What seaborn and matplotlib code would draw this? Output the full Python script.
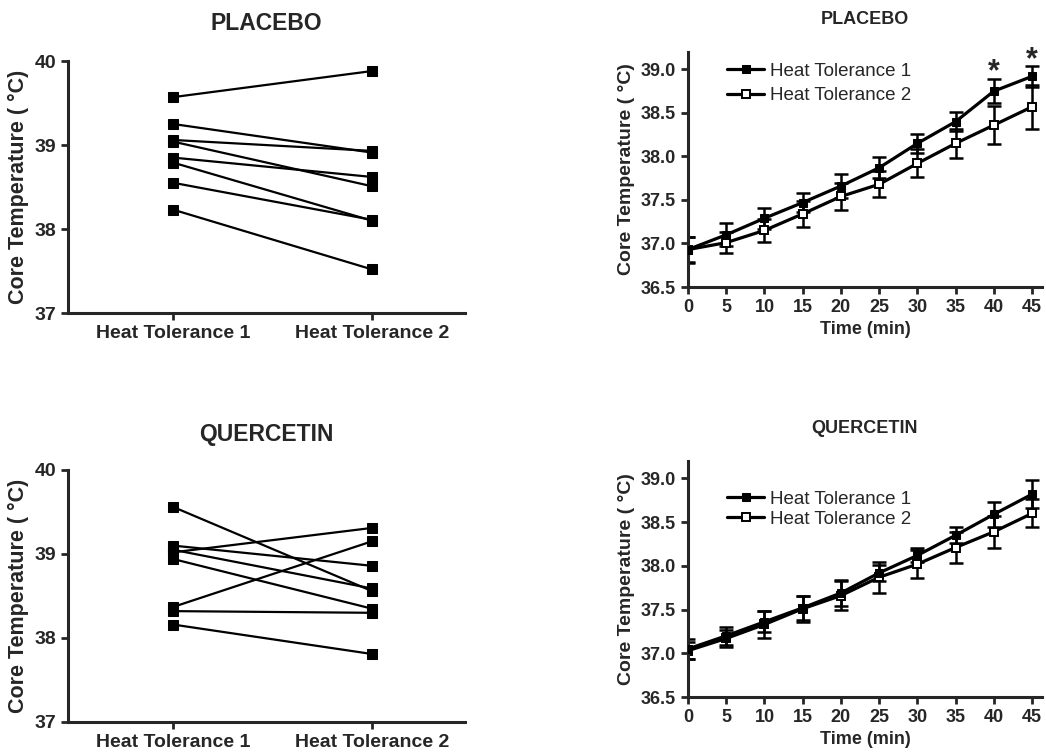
import numpy as np
import pandas as pd
import seaborn as sns
import matplotlib.pyplot as plt

# paired individual values (8 subjects)
placebo_ht1 = [39.57, 39.25, 39.06, 39.04, 38.85, 38.79, 38.55, 38.23]
placebo_ht2 = [39.88, 38.91, 38.93, 38.51, 38.62, 38.10, 38.11, 37.52]
quercetin_ht1 = [39.56, 39.10, 39.05, 39.02, 38.94, 38.37, 38.32, 38.16]
quercetin_ht2 = [38.56, 38.86, 38.59, 39.31, 38.35, 39.15, 38.30, 37.81]
trial_labels = ["Heat Tolerance 1", "Heat Tolerance 2"]

# time course, mean and SEM
time_min = [0, 5, 10, 15, 20, 25, 30, 35, 40, 45]
plc_ht1_mean = [36.93, 37.10, 37.29, 37.47, 37.66, 37.87, 38.15, 38.40, 38.75, 38.92]
plc_ht1_sem = [0.15, 0.13, 0.12, 0.11, 0.14, 0.12, 0.11, 0.11, 0.14, 0.12]
plc_ht2_mean = [36.93, 37.01, 37.15, 37.34, 37.54, 37.68, 37.92, 38.15, 38.36, 38.57]
plc_ht2_sem = [0.14, 0.12, 0.13, 0.15, 0.15, 0.15, 0.16, 0.17, 0.22, 0.25]
q_ht1_mean = [37.05, 37.20, 37.36, 37.52, 37.69, 37.92, 38.12, 38.35, 38.59, 38.82]
q_ht1_sem = [0.11, 0.10, 0.12, 0.14, 0.15, 0.09, 0.08, 0.09, 0.14, 0.16]
q_ht2_mean = [37.03, 37.17, 37.33, 37.51, 37.66, 37.87, 38.02, 38.21, 38.39, 38.60]
q_ht2_sem = [0.10, 0.10, 0.15, 0.15, 0.17, 0.18, 0.16, 0.18, 0.18, 0.16]
star_times = [40, 45]
star_y = [38.97, 39.11]

sns.set_style("ticks")
plt.rcParams["font.family"] = ["Liberation Sans", "DejaVu Sans"]
plt.rcParams["font.weight"] = "bold"

fig = plt.figure(figsize=(10.46, 7.56), dpi=100)
W, H = 1046, 756


def box(x0, x1, ytop, ybot):
    return [x0 / W, (H - ybot) / H, (x1 - x0) / W, (ybot - ytop) / H]


def style_axes(ax, size):
    sns.despine(ax=ax)
    for s in ["left", "bottom"]:
        ax.spines[s].set_linewidth(2.2)
    ax.tick_params(width=2, length=5, labelsize=size)
    for lab in ax.get_xticklabels() + ax.get_yticklabels():
        lab.set_fontweight("bold")


def paired_panel(ax, ht1, ht2, title, pad):
    rows = []
    for i, (a, b) in enumerate(zip(ht1, ht2)):
        rows.append({"subject": i, "pos": 0, "temp": a})
        rows.append({"subject": i, "pos": 1, "temp": b})
    df = pd.DataFrame(rows)
    sns.lineplot(data=df, x="pos", y="temp", units="subject", estimator=None,
                 color="black", lw=1.6, marker="s", markersize=7.8,
                 markeredgecolor="black", ax=ax)
    ax.set_xlim(-0.53, 1.47)
    ax.set_ylim(37, 40)
    ax.set_xticks([0, 1])
    ax.set_xticklabels(trial_labels)
    ax.set_yticks([37, 38, 39, 40])
    ax.set_xlabel("")
    ax.set_ylabel("Core Temperature ( °C)", fontsize=15.5, fontweight="bold")
    ax.set_title(title, fontsize=16.5, fontweight="bold", pad=pad)
    style_axes(ax, 14)


def time_panel(ax, m1, s1, m2, s2, title, pad, leg_y, leg_sp):
    ax.errorbar(time_min, m1, yerr=s1, fmt="none", ecolor="black",
                elinewidth=1.8, capsize=5, capthick=1.8, zorder=1)
    ax.errorbar(time_min, m2, yerr=s2, fmt="none", ecolor="black",
                elinewidth=1.8, capsize=5, capthick=1.8, zorder=1)
    d1 = pd.DataFrame({"time": time_min, "temp": m1})
    d2 = pd.DataFrame({"time": time_min, "temp": m2})
    sns.lineplot(data=d1, x="time", y="temp", color="black", lw=2.3,
                 marker="s", markersize=6, markeredgecolor="black",
                 label=trial_labels[0], ax=ax, zorder=3)
    sns.lineplot(data=d2, x="time", y="temp", color="black", lw=2.3,
                 marker="s", markersize=6, markerfacecolor="white",
                 markeredgecolor="black", markeredgewidth=1.4,
                 label=trial_labels[1], ax=ax, zorder=2)
    ax.set_xlim(0, 46.3)
    ax.set_ylim(36.5, 39.2)
    ax.set_xticks(time_min)
    ax.set_yticks([36.5, 37.0, 37.5, 38.0, 38.5, 39.0])
    ax.set_yticklabels(["36.5", "37.0", "37.5", "38.0", "38.5", "39.0"])
    ax.set_xlabel("Time (min)", fontsize=13, fontweight="bold")
    ax.set_ylabel("Core Temperature ( °C)", fontsize=14, fontweight="bold")
    ax.set_title(title, fontsize=13, fontweight="bold", pad=pad)
    ax.legend(loc="upper left", bbox_to_anchor=(0.11, leg_y), frameon=False,
              handlelength=2.0, handletextpad=0.3, labelspacing=leg_sp,
              borderaxespad=0, borderpad=0,
              prop={"size": 13.5, "weight": "normal"})
    style_axes(ax, 13)
    ax.spines["left"].set_bounds(36.5, 39.2)


ax1 = fig.add_axes(box(68, 465, 61, 313))
paired_panel(ax1, placebo_ht1, placebo_ht2, "PLACEBO", 22)

ax3 = fig.add_axes(box(68, 465, 470, 722))
paired_panel(ax3, quercetin_ht1, quercetin_ht2, "QUERCETIN", 21)

ax2 = fig.add_axes(box(688, 1042, 52, 287))
time_panel(ax2, plc_ht1_mean, plc_ht1_sem, plc_ht2_mean, plc_ht2_sem,
           "PLACEBO", 20, 0.955, 0.4)
for t, y in zip(star_times, star_y):
    ax2.text(t, y, "*", ha="center", va="center", fontsize=22, fontweight="bold")

ax4 = fig.add_axes(box(688, 1042, 461, 697))
time_panel(ax4, q_ht1_mean, q_ht1_sem, q_ht2_mean, q_ht2_sem,
           "QUERCETIN", 20, 0.875, 0.15)

fig.savefig("out.png", dpi=100)
